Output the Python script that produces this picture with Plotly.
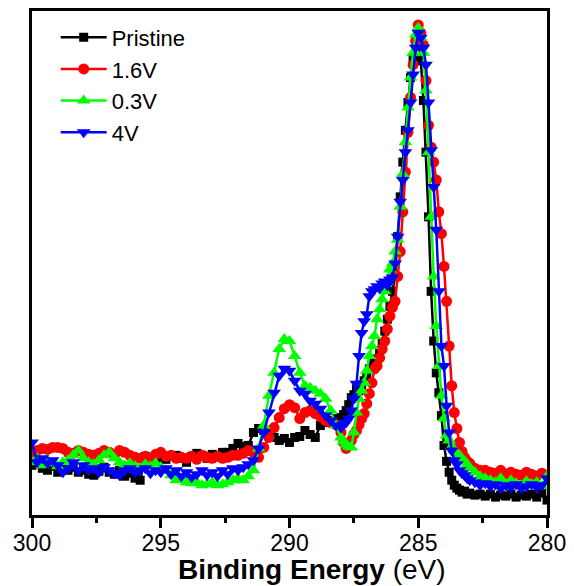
import numpy as np
import plotly.graph_objects as go

# Binding energy grid (eV): 0.2 eV steps, 0.1 eV steps across the main peak
energy_a = np.round(np.arange(300.0, 288.1, -0.2), 1)   # 300.0 .. 288.2
energy_b = np.round(np.arange(288.0, 282.95, -0.1), 1)  # 288.0 .. 283.0
energy_c = np.round(np.arange(282.8, 279.95, -0.2), 1)  # 282.8 .. 280.0
energy = np.concatenate([energy_a, energy_b, energy_c])

# Intensities (arbitrary units)
pristine = [
    47, 50, 44, 42, 46, 40, 44, 42, 45, 40, 42, 38, 37, 41, 45, 40, 38, 42, 36, 39,
    34, 32, 56, 54, 52, 55, 53, 56, 57, 54, 50, 56, 59, 57, 54, 58, 56, 60, 60, 64,
    69, 66, 67, 80, 84, 82, 79, 75, 72, 74, 70, 75, 76, 82, 78, 75, 87, 90, 92, 94,
    95, 98, 102, 108, 115, 118, 124, 122, 128, 132, 137, 144, 148, 150, 154, 162, 170, 182, 194, 207,
    222, 237, 277, 317, 352, 384, 412, 437, 457, 472, 477, 454, 414, 362, 297, 222, 172, 140, 120, 97,
    67, 51, 40, 32, 27, 24, 22, 20, 21, 18, 19,
    17, 18, 16, 18, 15, 17, 16, 18, 15, 17, 16, 18, 15, 19, 12,
]
v16 = [
    57, 62, 64, 63, 65, 65, 64, 60, 59, 62, 60, 58, 57, 59, 62, 60, 57, 62, 60, 57,
    55, 54, 56, 54, 58, 60, 56, 57, 54, 55, 54, 56, 53, 57, 55, 54, 56, 54, 55, 57,
    57, 59, 62, 60, 55, 65, 75, 85, 95, 104, 108, 105, 94, 100, 102, 99, 96, 92, 90, 88,
    80, 70, 64, 68, 72, 78, 82, 88, 94, 99, 109, 119, 130, 144, 147, 155, 164, 172, 184, 197,
    206, 212, 237, 262, 302, 342, 382, 417, 450, 474, 490, 482, 470, 434, 389, 367, 352, 334, 302, 280,
    247, 212, 167, 127, 100, 84, 70, 61, 55, 51, 49,
    44, 42, 42, 40, 39, 42, 38, 40, 38, 37, 40, 38, 36, 39, 37,
]
v03 = [
    50, 54, 47, 52, 49, 46, 50, 52, 57, 62, 54, 50, 48, 52, 57, 60, 54, 50, 47, 49,
    46, 44, 48, 46, 49, 45, 42, 37, 32, 34, 30, 29, 30, 27, 28, 30, 27, 28, 30, 32,
    34, 32, 36, 42, 64, 87, 117, 140, 164, 174, 172, 157, 140, 127, 125, 122, 119, 114, 102, 87,
    75, 71, 68, 66, 65, 80, 100, 114, 122, 130, 142, 157, 167, 177, 194, 204, 214, 222, 232, 244,
    250, 262, 274, 307, 340, 372, 407, 437, 462, 480, 487, 477, 462, 424, 362, 297, 237, 187, 147, 117,
    94, 77, 72, 66, 62, 59, 57, 52, 51, 48, 44,
    40, 36, 34, 32, 30, 34, 28, 32, 29, 27, 31, 28, 30, 26, 36,
]
v4 = [
    70, 50, 54, 49, 52, 47, 40, 44, 50, 42, 47, 42, 44, 40, 45, 42, 39, 37, 42, 44,
    40, 42, 44, 39, 42, 40, 44, 38, 42, 36, 40, 35, 38, 42, 37, 40, 36, 42, 38, 44,
    42, 45, 48, 52, 64, 80, 100, 120, 137, 144, 142, 132, 122, 119, 112, 109, 104, 97, 92, 87,
    85, 88, 90, 94, 102, 114, 129, 157, 180, 192, 199, 217, 222, 224, 227, 225, 230, 232, 228, 234,
    236, 250, 277, 312, 334, 362, 384, 412, 440, 467, 482, 477, 467, 450, 412, 364, 327, 284, 222, 167,
    147, 107, 80, 62, 52, 48, 42, 39, 37, 34, 32,
    30, 27, 29, 26, 28, 24, 27, 25, 28, 24, 26, 28, 25, 27, 34,
]

series_names = ["Pristine", "1.6V", "0.3V", "4V"]
series_values = [pristine, v16, v03, v4]
series_colors = ["#000000", "#FF0000", "#00FF00", "#0000FF"]
series_symbols = ["square", "circle", "triangle-up", "triangle-down"]
series_sizes = [9, 11, 12, 12]

x_ticks = [300, 295, 290, 285, 280]
x_minor_ticks = [297.5, 292.5, 287.5, 282.5]
x_title = "<b>Binding Energy</b> (eV)"

FONT = "Liberation Sans, Arial, sans-serif"

fig = go.Figure()
for name, vals, col, sym, sz in zip(series_names, series_values, series_colors,
                                    series_symbols, series_sizes):
    assert len(vals) == len(energy)
    fig.add_trace(go.Scatter(
        x=energy, y=vals, name=name, legendgroup=name,
        mode="lines+markers",
        line=dict(color=col, width=2.5),
        marker=dict(color=col, symbol=sym, size=sz, line=dict(width=0)),
    ))

fig.update_layout(
    width=574, height=586,
    margin=dict(l=32, r=22, t=8, b=71),
    paper_bgcolor="white", plot_bgcolor="white",
    font=dict(family=FONT, color="black"),
    showlegend=True,
    legend=dict(
        x=0.046, y=0.989, xanchor="left", yanchor="top",
        font=dict(size=22, family=FONT, color="black"),
        bgcolor="rgba(0,0,0,0)", borderwidth=0,
        itemwidth=46, tracegroupgap=0,
    ),
    annotations=[dict(
        text=x_title, xref="paper", yref="paper", x=0.544, y=-0.108,
        xanchor="center", yanchor="middle", showarrow=False,
        font=dict(size=28, family=FONT, color="black"),
    )],
)
fig.update_xaxes(
    range=[300, 280],
    tickvals=x_ticks, ticktext=[str(t) for t in x_ticks],
    showline=True, linecolor="black", linewidth=3, mirror=True,
    ticks="outside", ticklen=10, tickwidth=2.5, tickcolor="black",
    ticklabelstandoff=-5,
    tickfont=dict(size=23, family=FONT, color="black"),
    minor=dict(tickvals=x_minor_ticks, ticks="outside",
               ticklen=5, tickwidth=2.5, tickcolor="black", showgrid=False),
    showgrid=False, zeroline=False,
)
fig.update_yaxes(
    range=[-3, 504],
    showline=True, linecolor="black", linewidth=3, mirror=True,
    ticks="", showticklabels=False, showgrid=False, zeroline=False,
)

fig.write_html("out.html")
